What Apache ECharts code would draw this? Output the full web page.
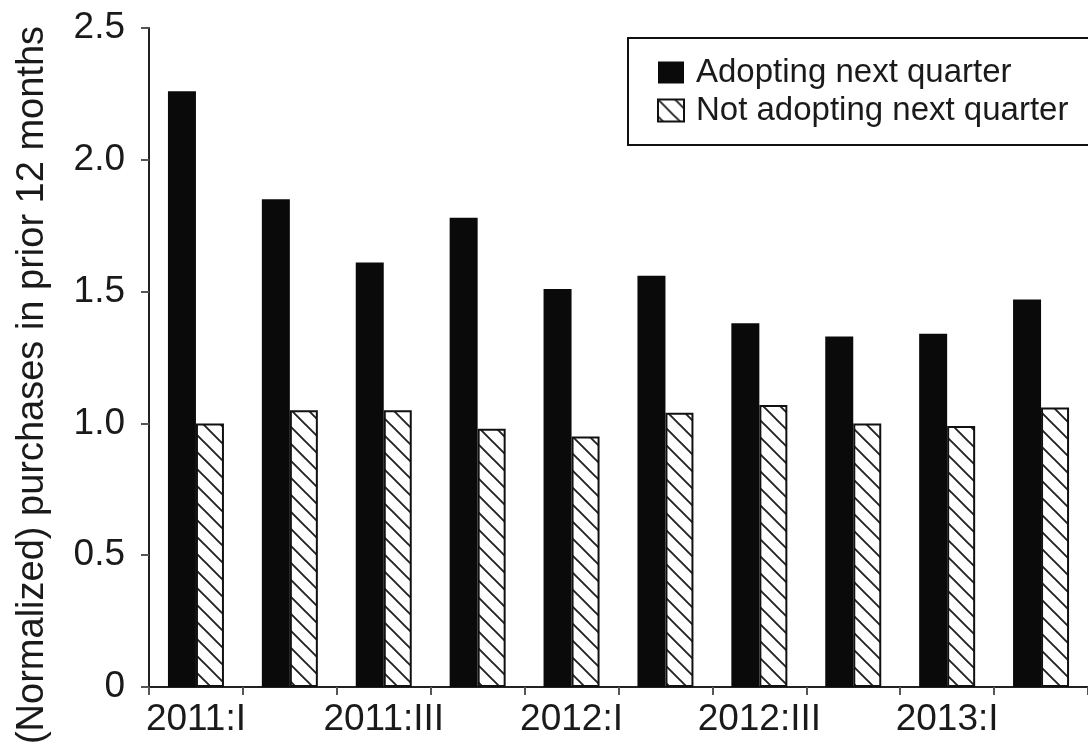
<!DOCTYPE html>
<html><head><meta charset="utf-8">
<script src="https://cdn.jsdelivr.net/npm/echarts/dist/echarts.min.js"></script>
<style>html,body{margin:0;padding:0;background:#fff}#c{width:1088px;height:749px}</style>
</head><body><div id="c"></div>
<script>
const categories = ['2011:I','2011:II','2011:III','2011:IV','2012:I','2012:II','2012:III','2012:IV','2013:I','2013:II'];
const adopting = [2.26, 1.85, 1.61, 1.78, 1.51, 1.56, 1.38, 1.33, 1.34, 1.47];
const notAdopting = [1.00, 1.05, 1.05, 0.98, 0.95, 1.04, 1.07, 1.00, 0.99, 1.06];
const yTickLabels = ['0', '0.5', '1.0', '1.5', '2.0', '2.5'];
const seriesNames = ['Adopting next quarter', 'Not adopting next quarter'];
const yTitle = '(Normalized) purchases in prior 12 months';

const FONT = '"Liberation Sans", Arial, Helvetica, sans-serif';
const INK = '#1a1a1a';

// hatch pattern "\" lines
function makeHatch(s) {
  const c = document.createElement('canvas');
  c.width = s; c.height = s;
  const g = c.getContext('2d');
  g.fillStyle = '#fff'; g.fillRect(0, 0, s, s);
  g.strokeStyle = '#222'; g.lineWidth = 1.9;
  g.beginPath();
  g.moveTo(-2, -2); g.lineTo(s + 2, s + 2);
  g.moveTo(s - 2, -2); g.lineTo(s + 2, 2);
  g.moveTo(-2, s - 2); g.lineTo(2, s + 2);
  g.stroke();
  return c;
}
const hatch = makeHatch(17);

const chart = echarts.init(document.getElementById('c'), null, {renderer: 'canvas'});
chart.setOption({
  animation: false,
  backgroundColor: '#fff',
  grid: {left: 149, top: 28, bottom: 62, right: -6.5, containLabel: false},
  legend: {
    orient: 'vertical', left: 628, top: 38,
    padding: [18, 40, 18, 29],
    borderColor: '#111', borderWidth: 2,
    itemWidth: 26, itemHeight: 22, itemGap: 5,
    textStyle: {fontSize: 33, fontFamily: FONT, color: INK, padding: [0, 0, 0, 7]},
    data: seriesNames.map(n => ({name: n, icon: 'rect'})),
    selectedMode: false
  },
  xAxis: {
    type: 'category', data: categories,
    boundaryGap: true,
    axisLine: {lineStyle: {color: '#222', width: 2}},
    axisTick: {show: true, interval: 0, length: 8, lineStyle: {color: '#555', width: 2}},
    axisLabel: {interval: 1, margin: 14, fontSize: 37, fontFamily: FONT, color: INK},
    splitLine: {show: false}
  },
  yAxis: {
    type: 'value', min: 0, max: 2.5, interval: 0.5,
    axisLine: {show: true, lineStyle: {color: '#222', width: 2}},
    axisTick: {show: true, length: 8, lineStyle: {color: '#555', width: 2}},
    axisLabel: {
      margin: 24, fontSize: 37, fontFamily: FONT, color: INK,
      formatter: (v) => yTickLabels[Math.round(v / 0.5)]
    },
    splitLine: {show: false}
  },
  graphic: [{
    type: 'text', x: 33, y: 385, rotation: Math.PI / 2,
    style: {text: yTitle, font: '38px ' + FONT, fill: INK, align: 'center', verticalAlign: 'middle'}
  }],
  series: [
    {type: 'bar', name: seriesNames[0], data: adopting, barWidth: 28, barGap: '0%',
     itemStyle: {color: '#0a0a0a'}},
    {type: 'bar', name: seriesNames[1], data: notAdopting, barWidth: 28, barGap: '0%',
     itemStyle: {color: {image: hatch, repeat: 'repeat'}, borderColor: '#111', borderWidth: 2}}
  ]
});
</script></body></html>
